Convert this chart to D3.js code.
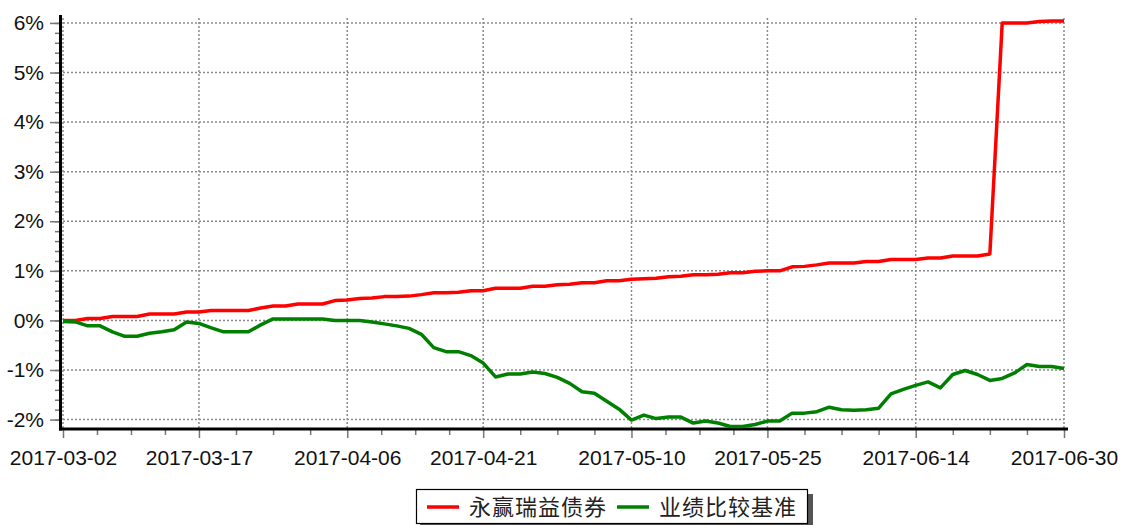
<!DOCTYPE html>
<html>
<head>
<meta charset="utf-8">
<script src="https://cdn.jsdelivr.net/npm/d3@7"></script>
<style>
    body { margin: 0; background: #fff; }
    svg { display: block; }
</style>
</head>
<body>
<div id="chart"></div>
<script>
// trading days shown on the x axis (category axis, one slot per day)
const dates = [
    "2017-03-02", "2017-03-03", "2017-03-06", "2017-03-07", "2017-03-08", "2017-03-09", "2017-03-10",
    "2017-03-13", "2017-03-14", "2017-03-15", "2017-03-16", "2017-03-17", "2017-03-20", "2017-03-21",
    "2017-03-22", "2017-03-23", "2017-03-24", "2017-03-27", "2017-03-28", "2017-03-29", "2017-03-30",
    "2017-03-31", "2017-04-05", "2017-04-06", "2017-04-07", "2017-04-10", "2017-04-11", "2017-04-12",
    "2017-04-13", "2017-04-14", "2017-04-17", "2017-04-18", "2017-04-19", "2017-04-20", "2017-04-21",
    "2017-04-24", "2017-04-25", "2017-04-26", "2017-04-27", "2017-04-28", "2017-05-02", "2017-05-03",
    "2017-05-04", "2017-05-05", "2017-05-08", "2017-05-09", "2017-05-10", "2017-05-11", "2017-05-12",
    "2017-05-15", "2017-05-16", "2017-05-17", "2017-05-18", "2017-05-19", "2017-05-22", "2017-05-23",
    "2017-05-24", "2017-05-25", "2017-05-26", "2017-05-31", "2017-06-01", "2017-06-02", "2017-06-05",
    "2017-06-06", "2017-06-07", "2017-06-08", "2017-06-09", "2017-06-12", "2017-06-13", "2017-06-14",
    "2017-06-15", "2017-06-16", "2017-06-19", "2017-06-20", "2017-06-21", "2017-06-22", "2017-06-23",
    "2017-06-26", "2017-06-27", "2017-06-28", "2017-06-29", "2017-06-30"
];

// cumulative return of the fund, in %
const fund_values = [
    0.00, 0.00, 0.04, 0.04, 0.08, 0.08, 0.08, 0.13, 0.13, 0.13, 0.17, 0.17, 0.20, 0.20,
    0.20, 0.20, 0.25, 0.29, 0.29, 0.33, 0.33, 0.33, 0.40, 0.41, 0.44, 0.45, 0.48, 0.48,
    0.49, 0.52, 0.56, 0.56, 0.57, 0.60, 0.60, 0.65, 0.65, 0.65, 0.69, 0.69, 0.72, 0.73,
    0.76, 0.76, 0.80, 0.80, 0.83, 0.84, 0.85, 0.88, 0.89, 0.92, 0.92, 0.93, 0.96, 0.96,
    0.99, 1.00, 1.00, 1.08, 1.09, 1.12, 1.16, 1.16, 1.16, 1.19, 1.19, 1.23, 1.23, 1.23,
    1.26, 1.26, 1.30, 1.30, 1.30, 1.34, 6.00, 6.00, 6.00, 6.03, 6.04, 6.04
];

// cumulative return of the benchmark, in %
const bench_values = [
    -0.02, -0.03, -0.11, -0.11, -0.23, -0.32, -0.32, -0.26, -0.23, -0.19, -0.03, -0.06, -0.15, -0.23,
    -0.23, -0.23, -0.09, 0.03, 0.03, 0.03, 0.03, 0.03, 0.00, 0.00, 0.00, -0.03, -0.07, -0.11,
    -0.16, -0.28, -0.55, -0.63, -0.63, -0.71, -0.86, -1.14, -1.08, -1.08, -1.04, -1.07, -1.15, -1.27,
    -1.44, -1.47, -1.63, -1.79, -2.01, -1.91, -1.98, -1.95, -1.95, -2.07, -2.03, -2.07, -2.14, -2.14,
    -2.10, -2.03, -2.03, -1.87, -1.87, -1.84, -1.75, -1.80, -1.81, -1.80, -1.77, -1.48, -1.39, -1.31,
    -1.24, -1.36, -1.09, -1.01, -1.09, -1.21, -1.17, -1.06, -0.89, -0.93, -0.93, -0.97
];

const series_names = ["永赢瑞益债券", "业绩比较基准"];
const series_colors = ["#ff0000", "#008000"];

const x_tick_labels = ["2017-03-02", "2017-03-17", "2017-04-06", "2017-04-21",
                       "2017-05-10", "2017-05-25", "2017-06-14", "2017-06-30"];
const y_tick_values = [-2, -1, 0, 1, 2, 3, 4, 5, 6];

const width = 1121;
const height = 525;
const font = "'Liberation Sans', Arial, sans-serif";

const svg = d3.select("#chart")
    .append("svg")
        .attr("width", width)
        .attr("height", height);

// x is a slot index, one per trading day
const x = d3.scaleLinear()
    .domain([0, dates.length - 1])
    .range([63, 1064]);
const y = d3.scaleLinear()
    .domain([-2.19, 6.16])
    .range([429, 15]);

const x_major = x_tick_labels.map((d) => dates.indexOf(d));
// minor ticks split every major interval into four
const x_minor = [];
for (let i = 0; i < x_major.length - 1; i++) {
    const a = x_major[i], b = x_major[i + 1];
    for (let k = 1; k < 4; k++) x_minor.push(a + (b - a) * k / 4);
}
const y_minor = d3.range(-20, 61, 2).map((d) => d / 10);

// dotted grid
const grid = svg.append("g").attr("id", "grid");
grid.selectAll("line.hgrid")
        .data(y_tick_values)
    .enter()
        .append("line")
        .attr("class", "hgrid")
        .attr("x1", x(0))
        .attr("x2", x(dates.length - 1))
        .attr("y1", (d) => y(d))
        .attr("y2", (d) => y(d));
grid.selectAll("line.vgrid")
        .data(x_major)
    .enter()
        .append("line")
        .attr("class", "vgrid")
        .attr("x1", (d) => x(d))
        .attr("x2", (d) => x(d))
        .attr("y1", 18)
        .attr("y2", 429);
grid.selectAll("line")
    .attr("stroke", "#8a8a8a")
    .attr("stroke-width", 1.5)
    .attr("stroke-dasharray", "2,2");

// y axis ticks and labels
const y_axis = svg.append("g")
    .attr("transform", "translate(59,0)")
    .call(d3.axisLeft(y).tickValues(y_tick_values).tickSize(9).tickPadding(6)
              .tickFormat((d) => d + "%"));
svg.append("g")
    .attr("transform", "translate(59,0)")
    .call(d3.axisLeft(y).tickValues(y_minor).tickSize(4).tickFormat(""))
    .call((g) => g.select(".domain").remove());

// x axis ticks and labels
const x_axis = svg.append("g")
    .attr("transform", "translate(0,430)")
    .call(d3.axisBottom(x).tickValues(x_major).tickSize(8).tickPadding(12)
              .tickFormat((d) => dates[d]));
svg.append("g")
    .attr("transform", "translate(0,430)")
    .call(d3.axisBottom(x).tickValues(x_minor).tickSize(5).tickFormat(""))
    .call((g) => g.select(".domain").remove());

y_axis.select(".domain").remove();
x_axis.select(".domain").remove();
svg.selectAll(".tick line").attr("stroke", "#777").attr("stroke-width", 1.5);
svg.selectAll(".tick text")
    .attr("fill", "#111")
    .style("font-family", font)
    .style("font-size", "21px");

// heavy black axis lines
svg.append("line")
    .attr("x1", 60.5).attr("x2", 60.5)
    .attr("y1", 15).attr("y2", 430.5)
    .attr("stroke", "#000").attr("stroke-width", 3);
svg.append("line")
    .attr("x1", 59).attr("x2", 1068)
    .attr("y1", 429).attr("y2", 429)
    .attr("stroke", "#000").attr("stroke-width", 3);

// series lines
const line = d3.line()
    .x((d, i) => x(i))
    .y((d) => y(d));

svg.append("g")
        .attr("id", "series")
    .selectAll("path")
        .data([fund_values, bench_values])
    .enter()
        .append("path")
        .attr("d", (d) => line(d))
        .attr("fill", "none")
        .attr("stroke", (d, i) => series_colors[i])
        .attr("stroke-width", 3.5)
        .attr("stroke-linejoin", "round");

// legend with a drop shadow
const legend = svg.append("g").attr("id", "legend");
legend.append("rect")
    .attr("x", 420).attr("y", 494)
    .attr("width", 393).attr("height", 34)
    .attr("fill", "#555");
legend.append("rect")
    .attr("x", 416.5).attr("y", 489.5)
    .attr("width", 391).attr("height", 34)
    .attr("fill", "#fff")
    .attr("stroke", "#000")
    .attr("stroke-width", 1.2);

const legend_x = [427, 617];
series_names.forEach((name, i) => {
    legend.append("line")
        .attr("x1", legend_x[i]).attr("x2", legend_x[i] + 32)
        .attr("y1", 507).attr("y2", 507)
        .attr("stroke", series_colors[i])
        .attr("stroke-width", 3.5);
    legend.append("text")
        .attr("x", legend_x[i] + 42)
        .attr("y", 515)
        .text(name)
        .attr("fill", "#222")
        .style("font-family", "'Noto Sans CJK SC', sans-serif")
        .style("font-size", "22px")
        .style("letter-spacing", "1px");
});
</script>
</body>
</html>
